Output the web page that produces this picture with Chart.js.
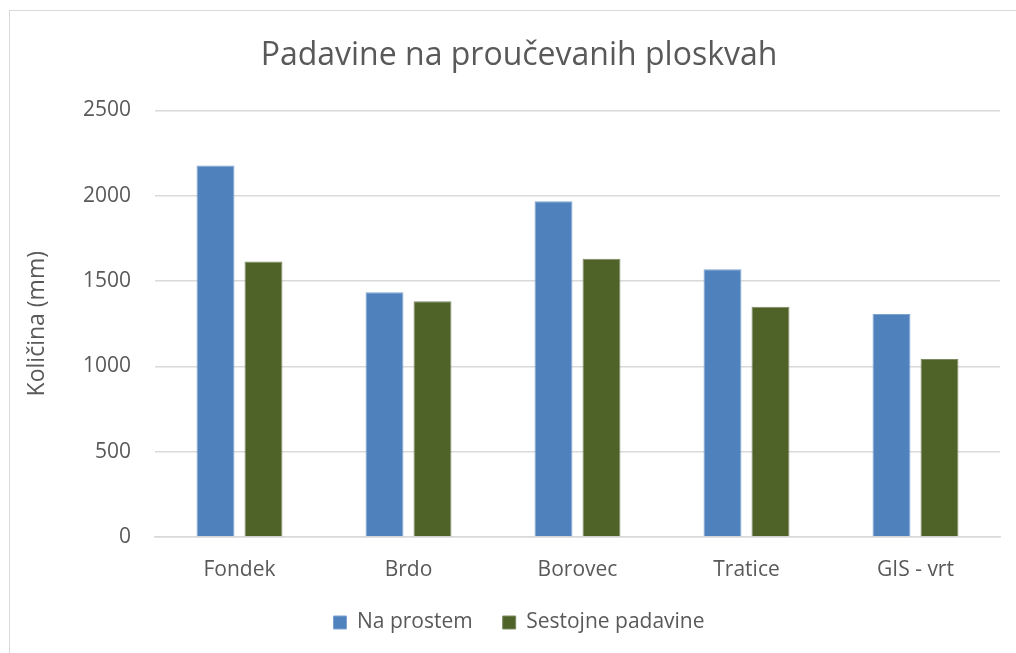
<!DOCTYPE html>
<html>
<head>
<meta charset="utf-8">
<script src="https://cdn.jsdelivr.net/npm/chart.js@4/dist/chart.umd.min.js"></script>
<style>
  html, body { margin: 0; padding: 0; background: #ffffff; }
  #wrap { position: relative; width: 1016px; height: 653px; overflow: hidden; background: #fff; }
  #frame { position: absolute; left: 9px; top: 10px; width: 1100px; height: 700px; border-left: 1.5px solid #d9d9d9; border-top: 1.5px solid #d9d9d9; }
  #c { position: absolute; left: 0; top: 0; }
</style>
</head>
<body>
<div id="wrap">
  <div id="frame"></div>
  <canvas id="c" width="1016" height="653"></canvas>
</div>
<script>
const categories = ["Fondek", "Brdo", "Borovec", "Tratice", "GIS - vrt"];
const naProstem = [2177, 1434, 1968, 1569, 1307];
const sestojnePadavine = [1614, 1381, 1630, 1350, 1043];
const seriesNames = ["Na prostem", "Sestojne padavine"];
const chartTitle = "Padavine na proučevanih ploskvah";
const yAxisTitle = "Količina (mm)";
const yMin = 0, yMax = 2500, yStep = 500;

const FONT = "'Open Sans', 'Noto Sans', sans-serif";
const TXT = "#595959";

new Chart(document.getElementById('c'), {
  type: 'bar',
  data: {
    labels: categories,
    datasets: [
      { label: seriesNames[0], data: naProstem, backgroundColor: '#4F81BD', borderColor: '#7fa3d0', borderWidth: 1, barPercentage: 0.79, categoryPercentage: 0.568 },
      { label: seriesNames[1], data: sestojnePadavine, backgroundColor: '#4F6228', borderColor: '#7d8b62', borderWidth: 1, barPercentage: 0.79, categoryPercentage: 0.568 }
    ]
  },
  options: {
    responsive: false,
    animation: false,
    devicePixelRatio: 1,
    layout: { padding: { top: 10, right: 16, bottom: 10, left: 38 } },
    plugins: {
      title: {
        display: true, text: chartTitle, color: TXT,
        font: { family: FONT, size: 32, weight: 'normal' },
        padding: { top: 27, bottom: 35 }
      },
      legend: {
        position: 'bottom',
        labels: {
          color: TXT, font: { family: FONT, size: 21 },
          boxWidth: 13, boxHeight: 13, padding: 30
        }
      },
      tooltip: { enabled: false }
    },
    scales: {
      x: {
        grid: { display: false, drawTicks: false },
        border: { display: true, color: '#d9d9d9', width: 1.5 },
        ticks: { color: TXT, font: { family: FONT, size: 21 }, padding: 20 },
        afterFit: (s) => { s.height = 45; }
      },
      y: {
        min: yMin, max: yMax,
        ticks: { stepSize: yStep, color: TXT, font: { family: FONT, size: 21 }, padding: 24, callback: (v) => String(v) },
        grid: { color: '#d9d9d9', lineWidth: 1.5, drawTicks: false },
        border: { display: false },
        title: { display: true, text: yAxisTitle, color: TXT, font: { family: FONT, size: 23 }, padding: { top: -14, bottom: 0 } },
        afterFit: (s) => { s.width = 117; }
      }
    }
  }
});
</script>
</body>
</html>
